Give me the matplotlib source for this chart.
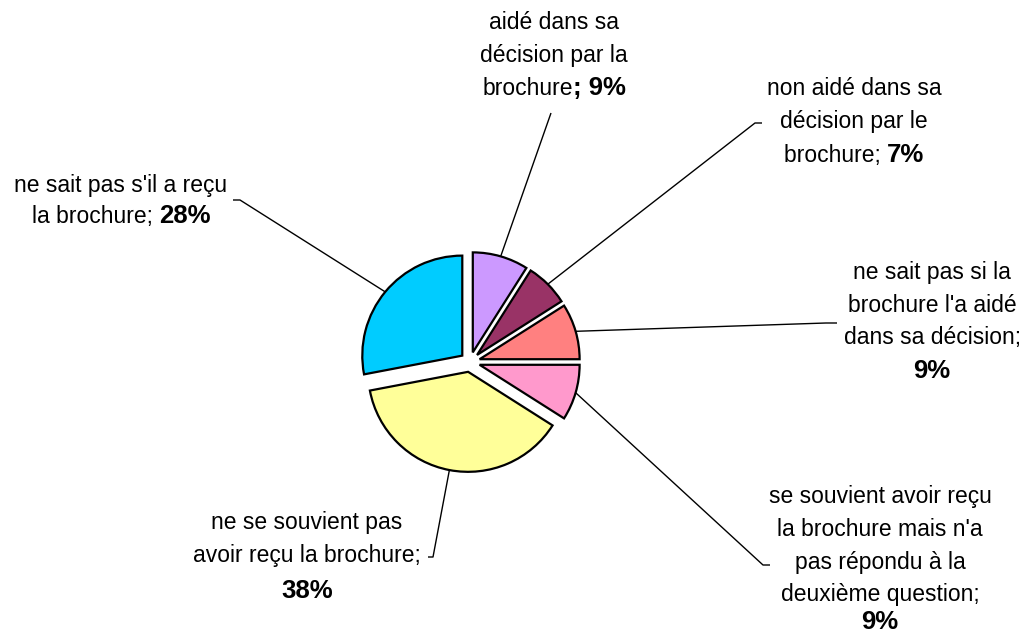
import math
import matplotlib
matplotlib.use("Agg")
import matplotlib.pyplot as plt

plt.rcParams['font.family'] = ['Liberation Sans', 'DejaVu Sans']

# ---- data ----
categories = [
    "aidé dans sa décision par la brochure",
    "non aidé dans sa décision par le brochure",
    "ne sait pas si la brochure l'a aidé dans sa décision",
    "se souvient avoir reçu la brochure mais n'a pas répondu à la deuxième question",
    "ne se souvient pas avoir reçu la brochure",
    "ne sait pas s'il a reçu la brochure",
]
values = [9, 7, 9, 9, 38, 28]
percent_labels = ["9%", "7%", "9%", "9%", "38%", "28%"]
# label lines: list of lines, each line a list of (text, is_bold)
label_lines = [
    [[("aidé dans sa", False)], [("décision par la", False)],
     [("brochure", False), ("; " + percent_labels[0], True)]],
    [[("non aidé dans sa", False)], [("décision par le", False)],
     [("brochure; ", False), (percent_labels[1], True)]],
    [[("ne sait pas si la", False)], [("brochure l'a aidé", False)],
     [("dans sa décision;", False)], [(percent_labels[2], True)]],
    [[("se souvient avoir reçu", False)], [("la brochure mais n'a", False)],
     [("pas répondu à la", False)], [("deuxième question;", False)],
     [(percent_labels[3], True)]],
    [[("ne se souvient pas", False)], [("avoir reçu la brochure;", False)],
     [(percent_labels[4], True)]],
    [[("ne sait pas s'il a reçu", False)],
     [("la brochure; ", False), (percent_labels[5], True)]],
]
colors = ["#CC99FF", "#993366", "#FF8080", "#FF99CC", "#FFFF99", "#00CCFF"]

W, H = 1028, 634
def Y(y):
    return H - y

# label layout: x centre and line-centre y positions (pixels from top)
label_x = [554, 854, 932, 880, 307, 121]
label_line_y = [
    [22, 55, 88],
    [88, 121, 155],
    [272, 305, 337, 369],
    [496, 529, 562, 594, 620],
    [522, 555, 589],
    [185, 216],
]
# leader elbow and stub end (pixels from top)
leader_elbow = [(551, 113), (755, 123), (826, 323), (763, 565), (433, 557), (240, 200)]
leader_end = [(551, 113), (762, 123), (837, 323), (770, 565), (428, 557), (233, 200)]

FS_NORMAL = 16.5
FS_BOLD = 18.5

fig = plt.figure(figsize=(W / 100, H / 100), dpi=100)
ax = fig.add_axes([0, 0, 1, 1])

wedges, _ = ax.pie(values, colors=colors, startangle=90, counterclock=False,
                   explode=[10] * len(values), radius=100, center=(470, Y(362)),
                   wedgeprops=dict(edgecolor='black', linewidth=1.6),
                   frame=False)

ax.set_xlim(0, W)
ax.set_ylim(0, H)
ax.set_aspect('equal')
ax.axis('off')

renderer = fig.canvas.get_renderer()

def seg_width(s, bold):
    t = ax.text(0, 0, s, fontsize=FS_BOLD if bold else FS_NORMAL,
                fontweight='bold' if bold else 'normal')
    bb = t.get_window_extent(renderer)
    t.remove()
    return bb.width

for w, lines, lx, lys, elb, end in zip(wedges, label_lines, label_x, label_line_y,
                                       leader_elbow, leader_end):
    tm = math.radians((w.theta1 + w.theta2) / 2)
    cx, cy = w.center
    px = cx + w.r * math.cos(tm)
    py = cy + w.r * math.sin(tm)
    ax.plot([px, elb[0], end[0]], [py, Y(elb[1]), Y(end[1])], color='black', lw=1.0,
            solid_capstyle='butt', zorder=1)
    for segs, ly in zip(lines, lys):
        widths = [seg_width(s, b) for s, b in segs]
        x0 = lx - sum(widths) / 2
        any_bold = any(b for _, b in segs)
        base = ly + (9 if (any_bold and len(segs) == 1) else 7)
        for (s, b), wd in zip(segs, widths):
            ax.text(x0, Y(base), s, ha='left', va='baseline',
                    fontsize=FS_BOLD if b else FS_NORMAL,
                    fontweight='bold' if b else 'normal', color='black')
            x0 += wd

fig.savefig("out.png", dpi=100)
